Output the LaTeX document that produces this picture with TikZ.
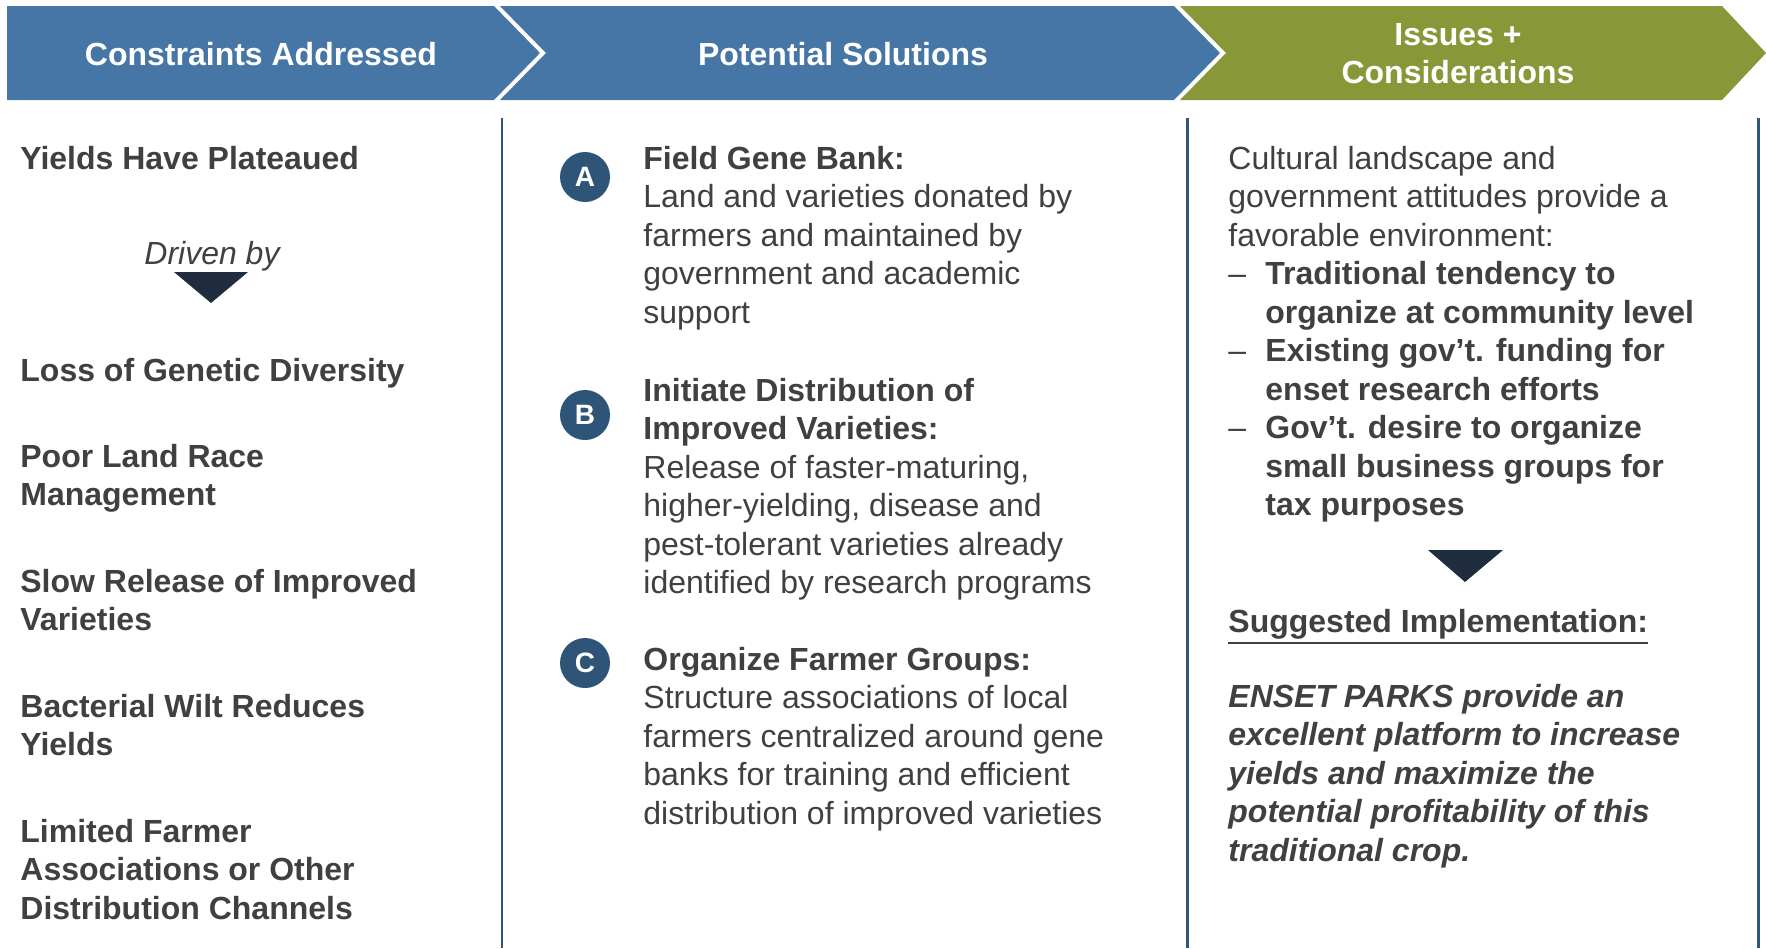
\documentclass[tikz,border=0pt]{standalone}
\usepackage{fontspec}
\setmainfont{Liberation Sans}
\definecolor{hdrblue}{HTML}{4676A5}
\definecolor{hdrgreen}{HTML}{889838}
\definecolor{txtgray}{HTML}{404040}
\definecolor{navy}{HTML}{1F2D3F}
\definecolor{circblue}{HTML}{2E5577}
\definecolor{rulecol}{HTML}{2F5578}
\begin{document}
\begin{tikzpicture}[x=0.5pt,y=-0.5pt]
	\tikzstyle{every node}=[inner sep=0pt,text=txtgray,font=\fontsize{16}{19.25}\selectfont]
	\tikzstyle{head}=[text=white,align=center,font=\fontsize{16}{19}\selectfont\bfseries]
	\tikzstyle{item}=[anchor=base west,align=left,font=\fontsize{16}{19.25}\selectfont\bfseries]
	\tikzstyle{para}=[anchor=base west,align=left]
	\tikzstyle{letter}=[circle,fill=circblue,minimum size=25pt,text=white,font=\fontsize{14}{14}\selectfont\bfseries]
	\tikzstyle{marker}=[fill=navy]
	\tikzstyle{divider}=[draw=rulecol,line width=1.5pt]
	\useasboundingbox (0,0) rectangle (1766,948);
	% header chevrons
	\fill[hdrblue] (7,6) -- (495,6) -- (543,53) -- (495,100) -- (7,100) -- cycle;
	\fill[hdrblue] (495,6) -- (1175,6) -- (1223,53) -- (1175,100) -- (495,100) -- (543,53) -- cycle;
	\fill[hdrgreen] (1175,6) -- (1722,6) -- (1766,53) -- (1722,100) -- (1175,100) -- (1223,53) -- cycle;
	\draw[white,line width=2pt] (495,4) -- (543,53) -- (495,102);
	\draw[white,line width=2pt] (1175,4) -- (1223,53) -- (1175,102);
	\node[head] (constraints) at (261,54) {Constraints Addressed};
	\node[head] (solutions) at (843,54) {Potential Solutions};
	\node[head] (issues) at (1458,54) {Issues +\\Considerations};
	% column rules
	\draw[divider,line width=1pt] (502,118) -- (502,948);
	\draw[divider] (1187,118) -- (1187,948);
	\draw[divider] (1758,118) -- (1758,948);
	% constraints (multi-line nodes sit on their last baseline)
	\node[item] (plateau) at (20,169) {Yields Have Plateaued};
	\node[anchor=base,font=\fontsize{16}{19.25}\selectfont\itshape] (driven) at (212,264) {Driven by};
	\fill[marker] (174,272) -- (248,272) -- (211,303) -- cycle;
	\node[item] (diversity) at (20,381) {Loss of Genetic Diversity};
	\node[item] (landrace) at (20,505.5) {Poor Land Race\\Management};
	\node[item] (release) at (20,630.5) {Slow Release of Improved\\Varieties};
	\node[item] (wilt) at (20,755.5) {Bacterial Wilt Reduces\\Yields};
	\node[item] (channels) at (20,919) {Limited Farmer\\Associations or Other\\Distribution Channels};
	% solutions
	\node[letter] (cA) at (585,177) {A};
	\node[letter] (cB) at (585,415) {B};
	\node[letter] (cC) at (585,663) {C};
	\node[para] (genebank) at (643,323) {\textbf{Field Gene Bank:}\\Land and varieties donated by\\farmers and maintained by\\government and academic\\support};
	\node[para] (distribution) at (643,593.5) {\textbf{Initiate Distribution of}\\\textbf{Improved Varieties:}\\Release of faster-maturing,\\higher-yielding, disease and\\pest-tolerant varieties already\\identified by research programs};
	\node[para] (groups) at (643,824) {\textbf{Organize Farmer Groups:}\\Structure associations of local\\farmers centralized around gene\\banks for training and efficient\\distribution of improved varieties};
	% issues
	\node[para] (landscape) at (1228,515.5) {Cultural landscape and\\government attitudes provide a\\favorable environment:\\
		\makebox[18.5pt][l]{\textendash}\textbf{Traditional tendency to}\\
		\hspace*{18.5pt}\textbf{organize at community level}\\
		\makebox[18.5pt][l]{\textendash}\textbf{Existing gov’t. funding for}\\
		\hspace*{18.5pt}\textbf{enset research efforts}\\
		\makebox[18.5pt][l]{\textendash}\textbf{Gov’t. desire to organize}\\
		\hspace*{18.5pt}\textbf{small business groups for}\\
		\hspace*{18.5pt}\textbf{tax purposes}};
	\fill[marker] (1428,550) -- (1503,550) -- (1465,582) -- cycle;
	\node[item] (suggested) at (1228,632) {Suggested Implementation:};
	\draw[txtgray,line width=1.2pt] ([yshift=-2pt]suggested.south west) -- ([yshift=-2pt]suggested.south east);
	\node[item,font=\fontsize{16}{19.25}\selectfont\bfseries\itshape] (parks) at (1228,861) {ENSET PARKS provide an\\excellent platform to increase\\yields and maximize the\\potential profitability of this\\traditional crop.};
\end{tikzpicture}
\end{document}
